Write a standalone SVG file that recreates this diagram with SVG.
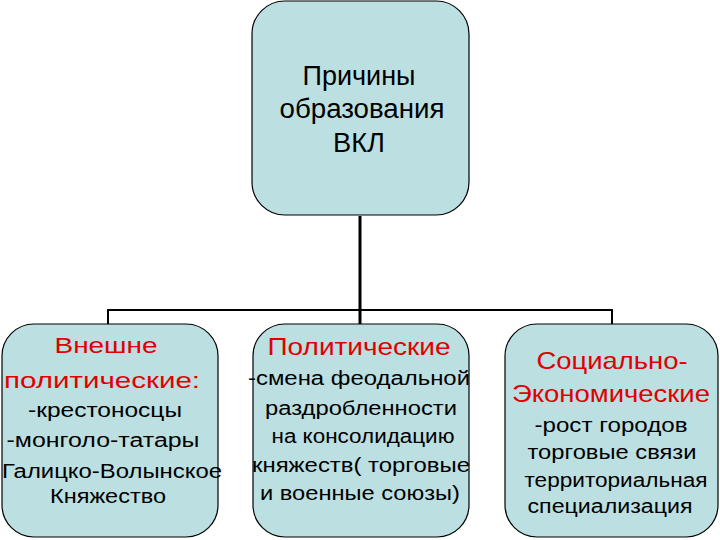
<svg xmlns="http://www.w3.org/2000/svg" width="720" height="540" viewBox="0 0 720 540">
<style>
.box{fill:#bcdfe2;stroke:#000;stroke-width:1.2}
.t{font-family:"Liberation Sans",Arial,sans-serif;fill:#000;text-anchor:middle}
.r{fill:#e00000}
.ln{fill:none;stroke:#000;stroke-width:2}
</style>
<rect width="720" height="540" fill="#fff"/>
<g id="connectors">
<line class="ln" x1="360" y1="216" x2="360" y2="324" style="stroke-width:3"/>
<polyline class="ln" points="108,324 108,310 612,310 612,324"/>
</g>
<g id="root">
<rect class="box" x="252" y="1" width="217" height="214" rx="33"/>
<text class="t" font-size="27" x="359" y="85" textLength="113" lengthAdjust="spacingAndGlyphs">Причины</text>
<text class="t" font-size="27" x="362" y="118" textLength="165" lengthAdjust="spacingAndGlyphs">образования</text>
<text class="t" font-size="27" x="359" y="152" textLength="52" lengthAdjust="spacingAndGlyphs">ВКЛ</text>
</g>
<g id="external">
<rect class="box" x="2" y="324" width="216" height="213" rx="32"/>
<text class="t r" font-size="22" x="106" y="353" textLength="103" lengthAdjust="spacingAndGlyphs">Внешне</text>
<text class="t r" font-size="22" x="102" y="388" textLength="196" lengthAdjust="spacingAndGlyphs">политические:</text>
<text class="t" font-size="20" x="105" y="417" textLength="154" lengthAdjust="spacingAndGlyphs">-крестоносцы</text>
<text class="t" font-size="20" x="103" y="447" textLength="193" lengthAdjust="spacingAndGlyphs">-монголо-татары</text>
<text class="t" font-size="20" x="112" y="478" textLength="220" lengthAdjust="spacingAndGlyphs">Галицко-Волынское</text>
<text class="t" font-size="20" x="108" y="503" textLength="116" lengthAdjust="spacingAndGlyphs">Княжество</text>
</g>
<g id="political">
<rect class="box" x="253" y="324" width="216" height="213" rx="32"/>
<text class="t r" font-size="24" x="359" y="355" textLength="183" lengthAdjust="spacingAndGlyphs">Политические</text>
<text class="t" font-size="20" x="359" y="385" textLength="222" lengthAdjust="spacingAndGlyphs">-смена феодальной</text>
<text class="t" font-size="20" x="361" y="415" textLength="192" lengthAdjust="spacingAndGlyphs">раздробленности</text>
<text class="t" font-size="20" x="363" y="443" textLength="183" lengthAdjust="spacingAndGlyphs">на консолидацию</text>
<text class="t" font-size="20" x="361" y="472" textLength="218" lengthAdjust="spacingAndGlyphs">княжеств( торговые</text>
<text class="t" font-size="20" x="360" y="500" textLength="200" lengthAdjust="spacingAndGlyphs">и военные союзы)</text>
</g>
<g id="socioeconomic">
<rect class="box" x="505" y="324" width="213" height="213" rx="32"/>
<text class="t r" font-size="24" x="612" y="369" textLength="151" lengthAdjust="spacingAndGlyphs">Социально-</text>
<text class="t r" font-size="24" x="611" y="402" textLength="198" lengthAdjust="spacingAndGlyphs">Экономические</text>
<text class="t" font-size="20" x="611" y="432" textLength="153" lengthAdjust="spacingAndGlyphs">-рост городов</text>
<text class="t" font-size="20" x="612" y="459" textLength="169" lengthAdjust="spacingAndGlyphs">торговые связи</text>
<text class="t" font-size="20" x="616" y="487" textLength="183" lengthAdjust="spacingAndGlyphs">территориальная</text>
<text class="t" font-size="20" x="610" y="513" textLength="165" lengthAdjust="spacingAndGlyphs">специализация</text>
</g>
</svg>
